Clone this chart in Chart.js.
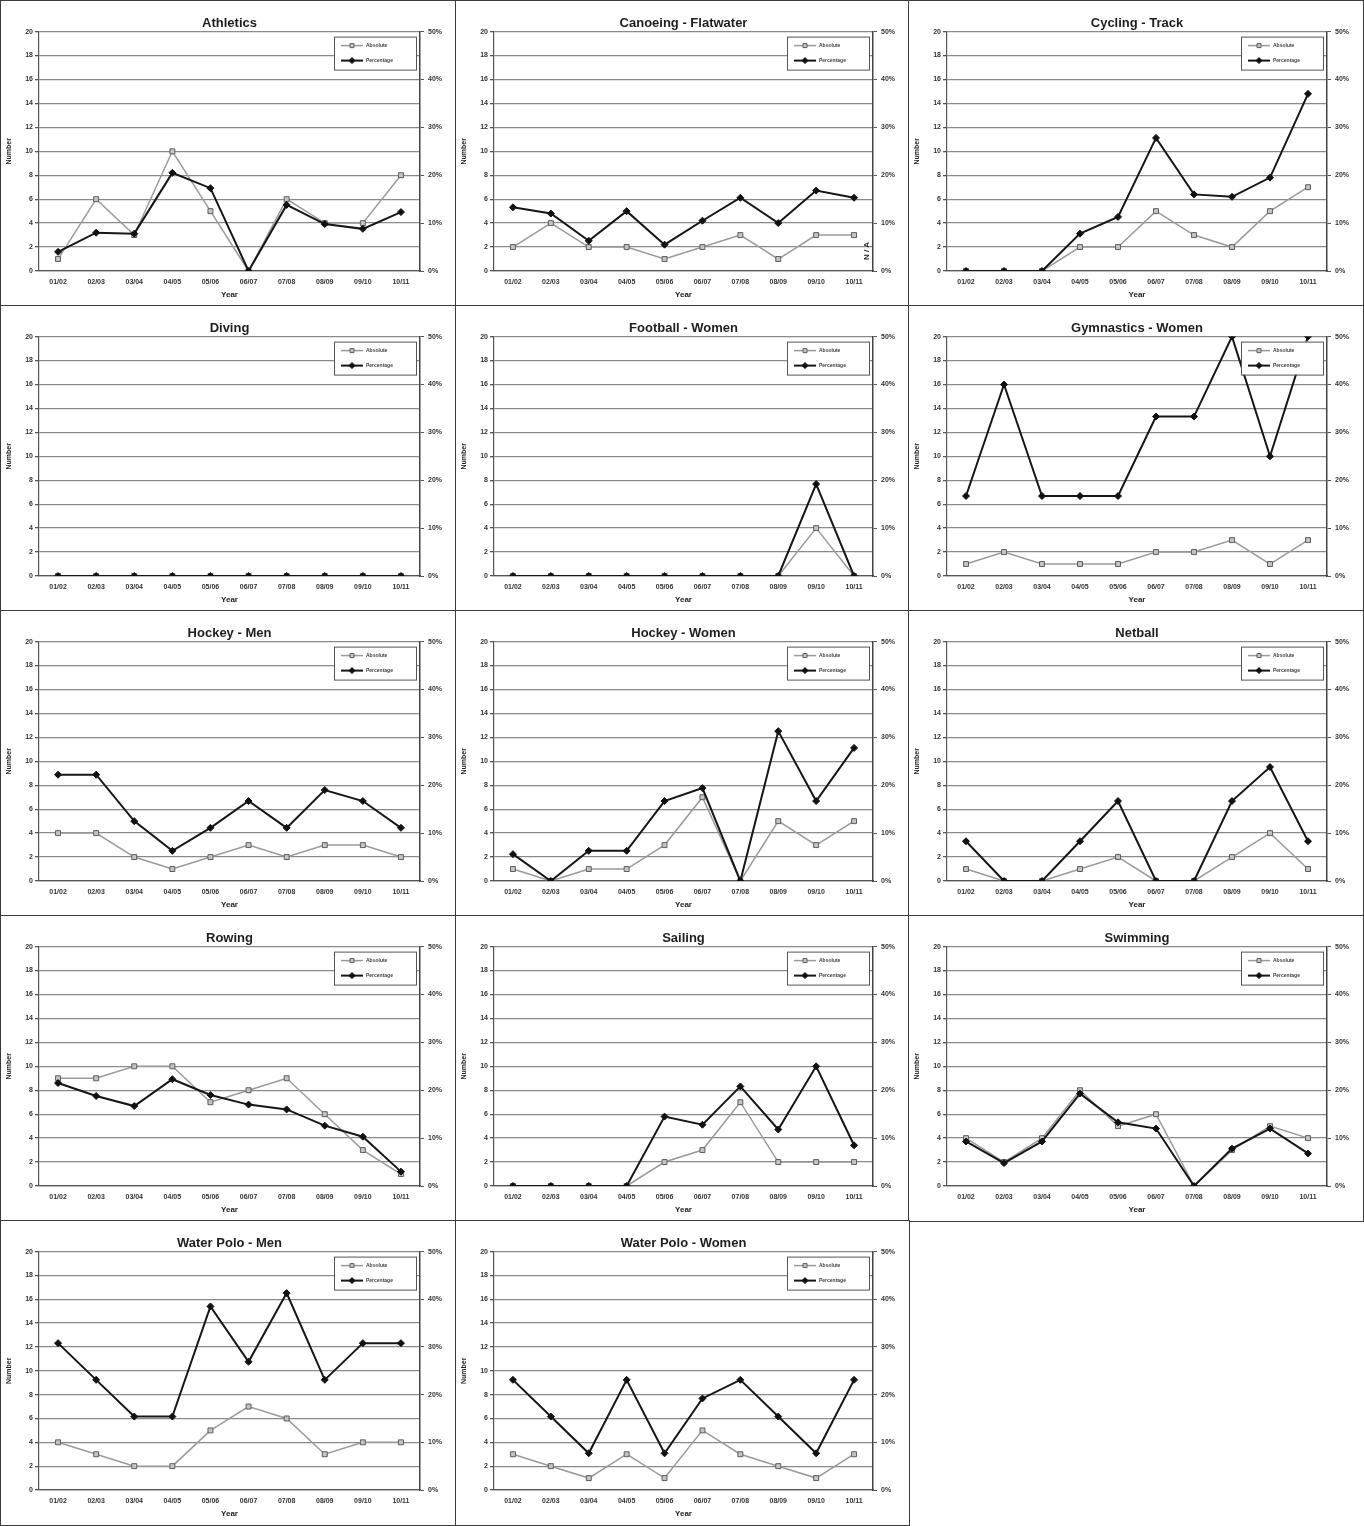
<!DOCTYPE html>
<html>
<head>
<meta charset="utf-8">
<script src="https://cdn.jsdelivr.net/npm/chart.js@4.4.1/dist/chart.umd.min.js"></script>
<style>
  html, body { margin: 0; padding: 0; background: #fff; }
  #page { position: relative; width: 1364px; height: 1526px; }
  .panel { position: absolute; box-sizing: border-box; border: 1px solid #3a3a3a; background: #fff; }
  .panel canvas { display: block; }
</style>
</head>
<body>
<div id="page"></div>
<script>
// Season labels shared by every panel
const years = ['01/02', '02/03', '03/04', '04/05', '05/06', '06/07', '07/08', '08/09', '09/10', '10/11'];

// Absolute = number (left axis), Pct = percentage (right axis, in %)
const athleticsAbs = [1, 6, 3, 10, 5, 0, 6, 4, 4, 8];
const athleticsPct = [4.0, 8.0, 7.8, 20.5, 17.3, 0, 13.8, 9.8, 8.8, 12.3];

const canoeingAbs = [2, 4, 2, 2, 1, 2, 3, 1, 3, 3];
const canoeingPct = [13.3, 12.0, 6.3, 12.5, 5.5, 10.5, 15.3, 10.0, 16.8, 15.3];

const cyclingAbs = [0, 0, 0, 2, 2, 5, 3, 2, 5, 7];
const cyclingPct = [0, 0, 0, 7.8, 11.3, 27.8, 16.0, 15.5, 19.5, 37.0];

const divingAbs = [0, 0, 0, 0, 0, 0, 0, 0, 0, 0];
const divingPct = [0, 0, 0, 0, 0, 0, 0, 0, 0, 0];

const footballWAbs = [0, 0, 0, 0, 0, 0, 0, 0, 4, 0];
const footballWPct = [0, 0, 0, 0, 0, 0, 0, 0, 19.2, 0];

const gymnasticsWAbs = [1, 2, 1, 1, 1, 2, 2, 3, 1, 3];
const gymnasticsWPct = [16.7, 40.0, 16.7, 16.7, 16.7, 33.3, 33.3, 50.0, 25.0, 50.0];

const hockeyMAbs = [4, 4, 2, 1, 2, 3, 2, 3, 3, 2];
const hockeyMPct = [22.2, 22.2, 12.5, 6.3, 11.1, 16.7, 11.1, 19.0, 16.7, 11.1];

const hockeyWAbs = [1, 0, 1, 1, 3, 7, 0, 5, 3, 5];
const hockeyWPct = [5.6, 0, 6.3, 6.3, 16.7, 19.4, 0, 31.3, 16.7, 27.8];

const netballAbs = [1, 0, 0, 1, 2, 0, 0, 2, 4, 1];
const netballPct = [8.3, 0, 0, 8.3, 16.7, 0, 0, 16.7, 23.8, 8.3];

const rowingAbs = [9, 9, 10, 10, 7, 8, 9, 6, 3, 1];
const rowingPct = [21.5, 18.8, 16.7, 22.3, 19.0, 17.0, 16.0, 12.6, 10.3, 3.0];

const sailingAbs = [0, 0, 0, 0, 2, 3, 7, 2, 2, 2];
const sailingPct = [0, 0, 0, 0, 14.5, 12.8, 20.8, 11.8, 25.0, 8.5];

const swimmingAbs = [4, 2, 4, 8, 5, 6, 0, 3, 5, 4];
const swimmingPct = [9.3, 4.8, 9.3, 19.3, 13.3, 12.0, 0, 7.8, 12.0, 6.8];

const waterPoloMAbs = [4, 3, 2, 2, 5, 7, 6, 3, 4, 4];
const waterPoloMPct = [30.8, 23.1, 15.4, 15.4, 38.5, 26.9, 41.3, 23.1, 30.8, 30.8];

const waterPoloWAbs = [3, 2, 1, 3, 1, 5, 3, 2, 1, 3];
const waterPoloWPct = [23.1, 15.4, 7.7, 23.1, 7.7, 19.2, 23.1, 15.4, 7.7, 23.1];

const panels = [
    { title: 'Athletics', abs: athleticsAbs, pct: athleticsPct, col: 0, row: 0 },
    { title: 'Canoeing - Flatwater', abs: canoeingAbs, pct: canoeingPct, col: 1, row: 0, note: 'N / A' },
    { title: 'Cycling - Track', abs: cyclingAbs, pct: cyclingPct, col: 2, row: 0 },
    { title: 'Diving', abs: divingAbs, pct: divingPct, col: 0, row: 1 },
    { title: 'Football - Women', abs: footballWAbs, pct: footballWPct, col: 1, row: 1 },
    { title: 'Gymnastics - Women', abs: gymnasticsWAbs, pct: gymnasticsWPct, col: 2, row: 1 },
    { title: 'Hockey - Men', abs: hockeyMAbs, pct: hockeyMPct, col: 0, row: 2 },
    { title: 'Hockey - Women', abs: hockeyWAbs, pct: hockeyWPct, col: 1, row: 2 },
    { title: 'Netball', abs: netballAbs, pct: netballPct, col: 2, row: 2 },
    { title: 'Rowing', abs: rowingAbs, pct: rowingPct, col: 0, row: 3 },
    { title: 'Sailing', abs: sailingAbs, pct: sailingPct, col: 1, row: 3 },
    { title: 'Swimming', abs: swimmingAbs, pct: swimmingPct, col: 2, row: 3 },
    { title: 'Water Polo - Men', abs: waterPoloMAbs, pct: waterPoloMPct, col: 0, row: 4 },
    { title: 'Water Polo - Women', abs: waterPoloWAbs, pct: waterPoloWPct, col: 1, row: 4 }
];

const colLeft = [0, 455, 908];
const colWidth = [457, 455, 456];
const rowTop = [0, 305, 610, 915, 1220];
const rowHeight = [307, 307, 307, 307, 306];

const FONT = '"Liberation Sans", Arial, sans-serif';
const absColor = '#9a9a9a';
const pctColor = '#161616';

// Excel style legend box, top right inside the plot
const boxLegend = {
    id: 'boxLegend',
    afterDatasetsDraw(chart) {
        const { ctx, chartArea } = chart;
        const w = 82, h = 33;
        const x = chartArea.right - w - 4;
        const y = chartArea.top + 5;
        ctx.save();
        ctx.fillStyle = '#fff';
        ctx.fillRect(x, y, w, h);
        ctx.strokeStyle = '#555';
        ctx.lineWidth = 1;
        ctx.strokeRect(x + 0.5, y + 0.5, w, h);
        chart.data.datasets.forEach((ds, i) => {
            const ly = y + 9 + i * 15;
            ctx.strokeStyle = ds.borderColor;
            ctx.lineWidth = ds.borderWidth;
            ctx.beginPath();
            ctx.moveTo(x + 7, ly);
            ctx.lineTo(x + 29, ly);
            ctx.stroke();
            ctx.fillStyle = ds.pointBackgroundColor;
            ctx.strokeStyle = ds.pointBorderColor;
            ctx.lineWidth = 1;
            ctx.beginPath();
            if (ds.pointStyle === 'rect') {
                ctx.rect(x + 16, ly - 2, 4, 4);
            } else {
                ctx.moveTo(x + 18, ly - 3);
                ctx.lineTo(x + 21, ly);
                ctx.lineTo(x + 18, ly + 3);
                ctx.lineTo(x + 15, ly);
                ctx.closePath();
            }
            ctx.fill();
            ctx.stroke();
            ctx.fillStyle = '#444';
            ctx.font = 'bold 5px ' + FONT;
            ctx.textBaseline = 'middle';
            ctx.fillText(ds.label, x + 32, ly);
        });
        ctx.restore();
    }
};

// rotated side note (Canoeing "N / A")
const sideNote = {
    id: 'sideNote',
    afterDraw(chart, args, opts) {
        if (!opts.text) return;
        const { ctx, chartArea } = chart;
        ctx.save();
        ctx.translate(chartArea.right - 6, chartArea.bottom - 20);
        ctx.rotate(-Math.PI / 2);
        ctx.font = 'bold 8px ' + FONT;
        ctx.fillStyle = '#222';
        ctx.textAlign = 'center';
        ctx.textBaseline = 'middle';
        ctx.fillText(opts.text, 0, 0);
        ctx.restore();
    }
};

const page = document.getElementById('page');

panels.forEach((p) => {
    const div = document.createElement('div');
    div.className = 'panel';
    div.style.left = colLeft[p.col] + 'px';
    div.style.top = rowTop[p.row] + 'px';
    div.style.width = colWidth[p.col] + 'px';
    div.style.height = rowHeight[p.row] + 'px';
    const canvas = document.createElement('canvas');
    div.appendChild(canvas);
    page.appendChild(div);

    new Chart(canvas, {
        type: 'line',
        data: {
            labels: years,
            datasets: [
                {
                    label: 'Absolute',
                    data: p.abs,
                    yAxisID: 'y',
                    order: 2,
                    borderColor: absColor,
                    borderWidth: 1.5,
                    pointStyle: 'rect',
                    pointRadius: 3.5,
                    pointBackgroundColor: '#c4c4c4',
                    pointBorderColor: '#5e5e5e',
                    pointBorderWidth: 1,
                    tension: 0,
                    fill: false
                },
                {
                    label: 'Percentage',
                    data: p.pct,
                    yAxisID: 'y2',
                    order: 1,
                    borderColor: pctColor,
                    borderWidth: 2,
                    pointStyle: 'rectRot',
                    pointRadius: 3.5,
                    pointBackgroundColor: '#111',
                    pointBorderColor: '#111',
                    pointBorderWidth: 1,
                    tension: 0,
                    fill: false
                }
            ]
        },
        options: {
            responsive: true,
            maintainAspectRatio: false,
            animation: false,
            layout: { padding: { left: 4, right: 2, top: 0, bottom: 6 } },
            plugins: {
                legend: { display: false },
                tooltip: { enabled: false },
                title: {
                    display: true,
                    text: p.title,
                    color: '#1e1e1e',
                    font: { family: FONT, size: 13, weight: 'bold' },
                    padding: { top: 15, bottom: 0 }
                },
                sideNote: { text: p.note || '' }
            },
            scales: {
                x: {
                    offset: true,
                    grid: { display: false, drawTicks: false, tickLength: 0 },
                    border: { display: true, color: '#555', width: 1.2 },
                    ticks: {
                        color: '#333',
                        padding: 7,
                        maxRotation: 0,
                        autoSkip: false,
                        font: { family: FONT, size: 7, weight: 'bold' }
                    },
                    title: {
                        display: true,
                        text: 'Year',
                        color: '#222',
                        padding: { top: 0, bottom: 0 },
                        font: { family: FONT, size: 8, weight: 'bold' }
                    },
                    afterFit: (s) => { s.height = 29; }
                },
                y: {
                    position: 'left',
                    min: 0,
                    max: 20,
                    grid: { color: '#8a8a8a', lineWidth: 1.3, tickLength: 4, tickColor: '#555' },
                    border: { display: true, color: '#555', width: 1.2 },
                    ticks: {
                        stepSize: 2,
                        color: '#333',
                        padding: 2,
                        font: { family: FONT, size: 7, weight: 'bold' }
                    },
                    title: {
                        display: true,
                        text: 'Number',
                        color: '#222',
                        padding: { top: 0, bottom: 2 },
                        font: { family: FONT, size: 7, weight: 'bold' }
                    },
                    afterFit: (s) => { s.width = 34; }
                },
                y2: {
                    position: 'right',
                    min: 0,
                    max: 50,
                    grid: { drawOnChartArea: false, tickLength: 4, color: '#555' },
                    border: { display: true, color: '#444', width: 1.5 },
                    ticks: {
                        stepSize: 10,
                        color: '#333',
                        padding: 4,
                        font: { family: FONT, size: 7, weight: 'bold' },
                        callback: (v) => v + '%'
                    },
                    afterFit: (s) => { s.width = 34; }
                }
            }
        },
        plugins: [boxLegend, sideNote]
    });
});
</script>
</body>
</html>
